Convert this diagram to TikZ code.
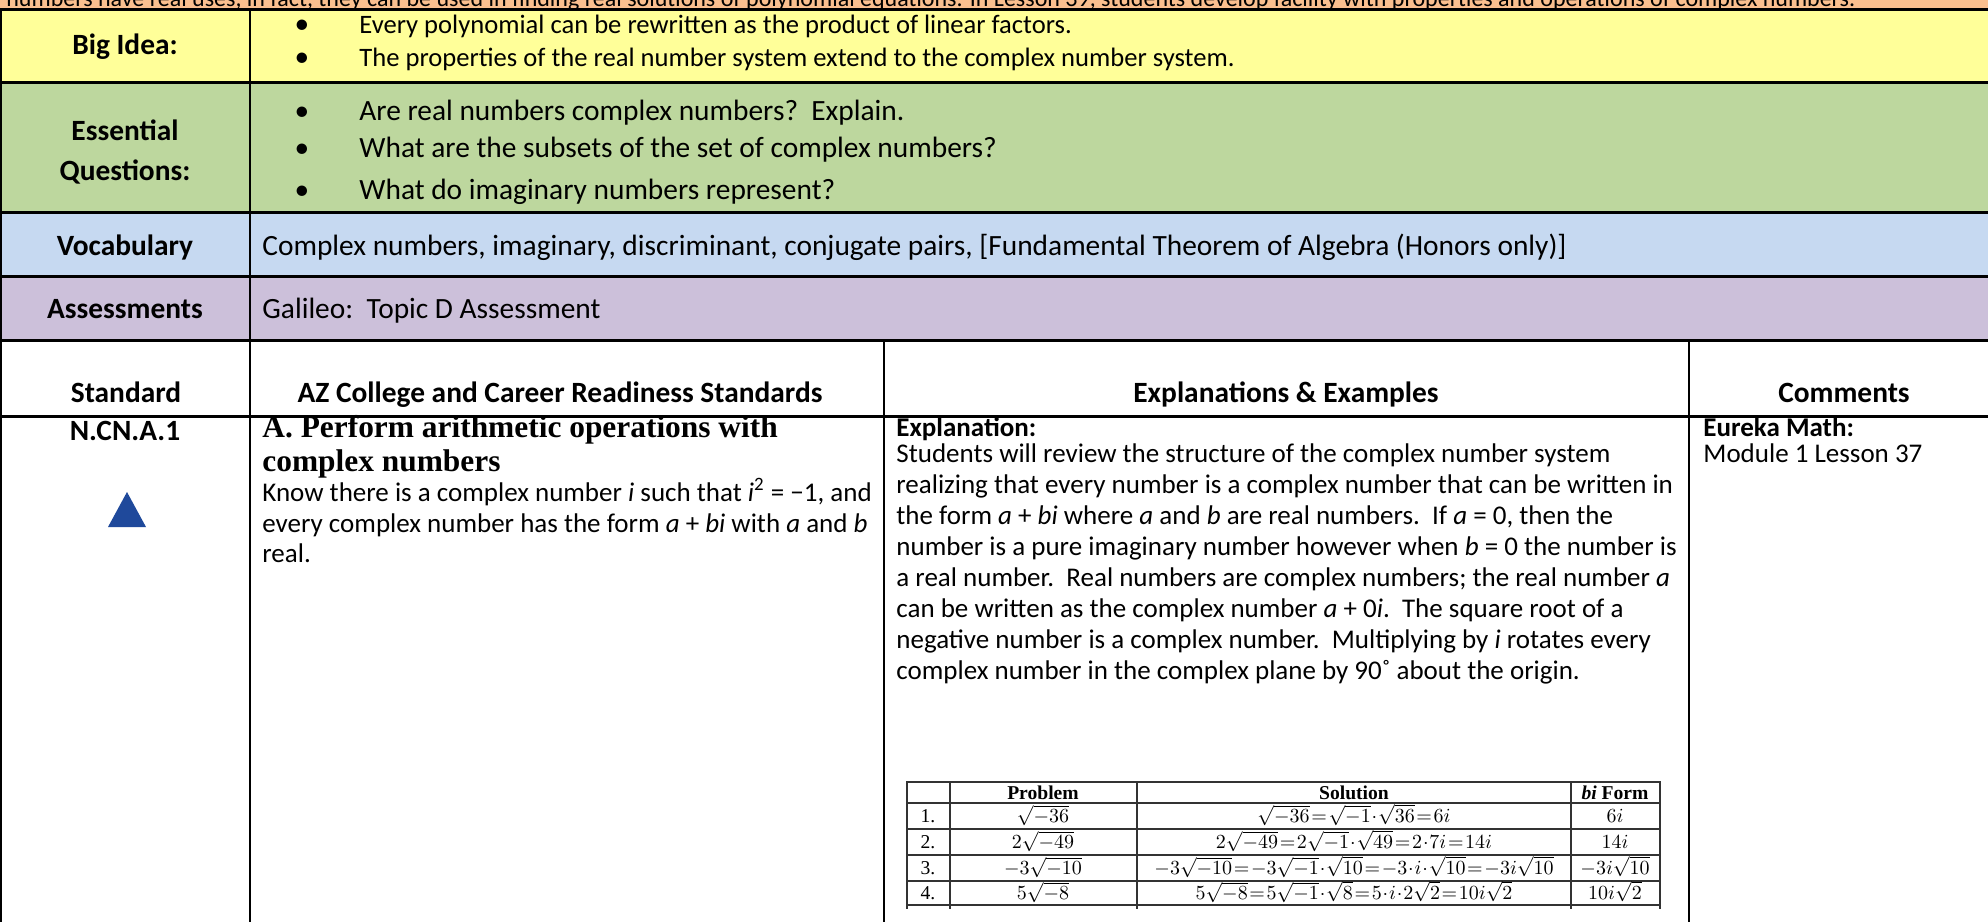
\documentclass[tikz,border=0pt]{standalone}
\usepackage[no-math]{fontspec}
\usepackage{amsmath}
\setmainfont{Carlito}
\newfontfamily\camfont{Liberation Serif}
\definecolor{toprow}{RGB}{250,191,143}
\definecolor{bigidea}{RGB}{255,255,153}
\definecolor{essq}{RGB}{189,215,158}
\definecolor{vocab}{RGB}{198,217,241}
\definecolor{assess}{RGB}{204,192,218}
\definecolor{triblue}{RGB}{31,73,155}
\newcommand{\rowfont}{\fontsize{14.7}{17}\selectfont}
\newcommand{\bigfont}{\fontsize{13.3}{16}\selectfont}
\newcommand{\txtfont}{\fontsize{13.5}{15.5}\selectfont}
\newcommand{\stdfont}{\fontsize{15.7}{18}\selectfont\camfont\bfseries}
\newcommand{\tabfont}{\fontsize{9.8}{11}\selectfont}
\newcommand{\mathfont}{\fontsize{9.8}{11}\selectfont\thickmuskip=1.5mu\medmuskip=0.8mu}

\begin{document}
\begin{tikzpicture}[x=0.5pt,y=-0.5pt]
\tikzset{lab/.style = {anchor=base, inner sep=0pt, font=\rowfont\bfseries}}
\tikzset{row/.style = {anchor=base west, inner sep=0pt, font=\rowfont}}
\tikzset{txt/.style = {anchor=base west, inner sep=0pt, font=\txtfont}}
\tikzset{bul/.style = {anchor=base, inner sep=0pt, font=\rowfont}}
\tikzset{tab/.style = {anchor=base, inner sep=0pt, font=\mathfont}}
\tikzset{rule/.style = {line width=1.5pt}}
\tikzset{vrule/.style = {line width=1pt}}
\tikzset{tline/.style = {line width=0.6pt, black!80}}

\useasboundingbox (0,0) rectangle (1988,922);

% coloured bands
\fill[toprow] (0,0) rectangle (1988,9);
\fill[bigidea] (0,9) rectangle (1988,82);
\fill[essq] (0,82) rectangle (1988,212);
\fill[vocab] (0,212) rectangle (1988,276);
\fill[assess] (0,276) rectangle (1988,340);

\begin{scope}
\clip (0,0) rectangle (1988,9);
\node[anchor=base west, inner sep=0pt, font=\fontsize{12}{14}\selectfont] (intro) at (6,6) {numbers have real uses, in fact, they can be used in finding real solutions of polynomial equations. In Lesson 39, students develop facility with properties and operations of complex numbers.};
\end{scope}

% big idea
\node[lab] (big) at (125,54) {Big Idea:};
\node[bul] (b1) at (302,33) {•};
\node[bul] (b2) at (302,66) {•};
\node[row, font=\bigfont] (big1) at (359,33) {Every polynomial can be rewritten as the product of linear factors.};
\node[row, font=\bigfont] (big2) at (359,66) {The properties of the real number system extend to the complex number system.};

% essential questions
\node[lab] (ess) at (125,140) {Essential};
\node[lab] (que) at (125,180) {Questions:};
\node[bul] (e1) at (302,120) {•};
\node[bul] (e2) at (302,157) {•};
\node[bul] (e3) at (302,199) {•};
\node[row] (ess1) at (359,120) {Are real numbers complex numbers?\ \ Explain.};
\node[row] (ess2) at (359,157) {What are the subsets of the set of complex numbers?};
\node[row] (ess3) at (359,199) {What do imaginary numbers represent?};

% vocabulary and assessments
\node[lab] (voc) at (125,255) {Vocabulary};
\node[row] (voc1) at (262,255) {Complex numbers, imaginary, discriminant, conjugate pairs, [Fundamental Theorem of Algebra (Honors only)]};
\node[lab] (ass) at (125,318) {Assessments};
\node[row] (ass1) at (262,318) {Galileo:\ \ Topic D Assessment};

% header row
\node[lab] (hstd) at (126,402) {Standard};
\node[lab] (haz) at (560,402) {AZ College and Career Readiness Standards};
\node[lab] (hexp) at (1286,402) {Explanations \& Examples};
\node[lab] (hcom) at (1844,402) {Comments};

% standard column
\node[lab] (code) at (125,440) {N.CN.A.1};
\fill[triblue] (127,492) -- (108,527) -- (146,527) -- cycle;

\node[anchor=base west, inner sep=0pt, font=\stdfont] (cl1) at (262,437) {A. Perform arithmetic operations with};
\node[anchor=base west, inner sep=0pt, font=\stdfont] (cl2) at (262,471) {complex numbers};
\node[txt] (k1) at (262,501) {Know there is a complex number \textit{i} such that \textit{i}\textsuperscript{2} = −1, and};
\node[txt] (k2) at (262,532) {every complex number has the form \textit{a} + \textit{bi} with \textit{a} and \textit{b}};
\node[txt] (k3) at (262,562) {real.};

% explanation column
\node[txt, font=\txtfont\bfseries] (x0) at (896,436) {Explanation:};
\node[txt] (x1) at (896,462) {Students will review the structure of the complex number system};
\node[txt] (x2) at (896,493) {realizing that every number is a complex number that can be written in};
\node[txt] (x3) at (896,524) {the form \textit{a} + \textit{bi} where \textit{a} and \textit{b} are real numbers.\ \ If \textit{a} = 0, then the};
\node[txt] (x4) at (896,555) {number is a pure imaginary number however when \textit{b} = 0 the number is};
\node[txt] (x5) at (896,586) {a real number.\ \ Real numbers are complex numbers; the real number \textit{a}};
\node[txt] (x6) at (896,617) {can be written as the complex number \textit{a} + 0\textit{i}.\ \ The square root of a};
\node[txt] (x7) at (896,648) {negative number is a complex number.\ \ Multiplying by \textit{i} rotates every};
\node[txt] (x8) at (896,679) {complex number in the complex plane by 90˚ about the origin.};

% comments column
\node[txt, font=\txtfont\bfseries] (eur) at (1703,436) {Eureka Math:};
\node[txt] (mod) at (1703,462) {Module 1 Lesson 37};

% examples table
\draw[tline] (907,782) rectangle (1660,905);
\draw[tline] (907,803) -- (1660,803);
\draw[tline] (907,829) -- (1660,829);
\draw[tline] (907,855) -- (1660,855);
\draw[tline] (907,881) -- (1660,881);
\draw[tline] (950,782) -- (950,909);
\draw[tline] (1137,782) -- (1137,909);
\draw[tline] (1571,782) -- (1571,909);
\draw[tline] (907,905) -- (907,909);
\draw[tline] (1660,905) -- (1660,909);

\node[tab, font=\tabfont\camfont\bfseries] (tp) at (1043,799) {Problem};
\node[tab, font=\tabfont\camfont\bfseries] (ts) at (1354,799) {Solution};
\node[tab, font=\tabfont\camfont\bfseries] (tf) at (1615,799) {\textit{bi} Form};

\node[tab, font=\tabfont\camfont] (n1) at (928,822) {1.};
\node[tab, font=\tabfont\camfont] (n2) at (928,848) {2.};
\node[tab, font=\tabfont\camfont] (n3) at (928,874) {3.};
\node[tab, font=\tabfont\camfont] (n4) at (928,899) {4.};

\node[tab] (p1) at (1043,822) {$\sqrt{-36}$};
\node[tab] (p2) at (1043,848) {$2\sqrt{-49}$};
\node[tab] (p3) at (1043,874) {$-3\sqrt{-10}$};
\node[tab] (p4) at (1043,899) {$5\sqrt{-8}$};

\node[tab] (s1) at (1354,822) {$\sqrt{-36}=\sqrt{-1}\cdot\sqrt{36}=6i$};
\node[tab] (s2) at (1354,848) {$2\sqrt{-49}=2\sqrt{-1}\cdot\sqrt{49}=2\cdot 7i=14i$};
\node[tab] (s3) at (1354,874) {$-3\sqrt{-10}=-3\sqrt{-1}\cdot\sqrt{10}=-3\cdot i\cdot\sqrt{10}=-3i\sqrt{10}$};
\node[tab] (s4) at (1354,899) {$5\sqrt{-8}=5\sqrt{-1}\cdot\sqrt{8}=5\cdot i\cdot 2\sqrt{2}=10i\sqrt{2}$};

\node[tab] (f1) at (1615,822) {$6i$};
\node[tab] (f2) at (1615,848) {$14i$};
\node[tab] (f3) at (1615,874) {$-3i\sqrt{10}$};
\node[tab] (f4) at (1615,899) {$10i\sqrt{2}$};

% grid of the main table
\draw[rule] (0,9) -- (1988,9);
\draw[rule] (0,82) -- (1988,82);
\draw[rule] (0,212) -- (1988,212);
\draw[rule] (0,276) -- (1988,276);
\draw[rule] (0,340) -- (1988,340);
\draw[rule] (0,416) -- (1988,416);
\draw[vrule] (1,9) -- (1,922);
\draw[vrule] (250,9) -- (250,922);
\draw[vrule] (884,340) -- (884,922);
\draw[vrule] (1689,340) -- (1689,922);
\end{tikzpicture}
\end{document}
